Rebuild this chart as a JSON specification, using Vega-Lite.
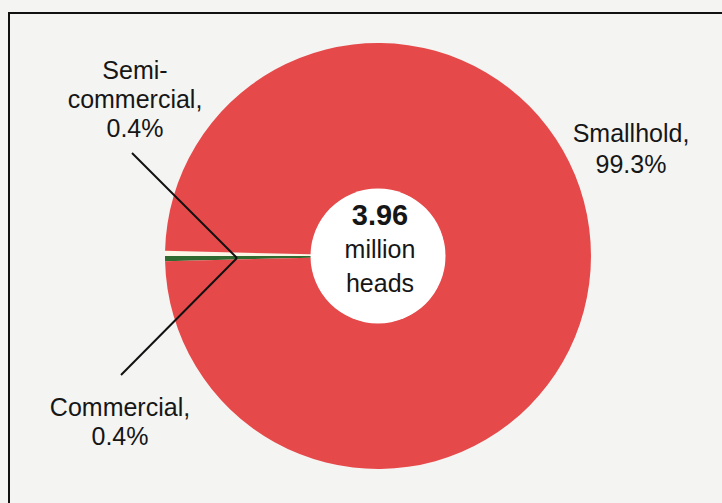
{
  "$schema": "https://vega.github.io/schema/vega-lite/v6.json",
  "width": 722,
  "height": 503,
  "autosize": {"type": "none"},
  "padding": 0,
  "background": "#F4F4F2",
  "config": {"view": {"stroke": null}, "text": {"font": "Liberation Sans", "color": "#161616"}},
  "datasets": {
    "shares": [
      {"category": "Commercial", "share": 0.4},
      {"category": "Semi-commercial", "share": 0.4},
      {"category": "Smallhold", "share": 99.3}
    ]
  },
  "layer": [
    {
      "data": {"values": [{}]},
      "mark": {"type": "rect", "fillOpacity": 0, "stroke": "#111111", "strokeWidth": 2},
      "encoding": {"x": {"value": 9}, "y": {"value": 13}, "x2": {"value": 780}, "y2": {"value": 560}}
    },
    {
      "data": {"name": "shares"},
      "mark": {"type": "arc", "innerRadius": 67, "outerRadius": 213},
      "encoding": {
        "theta": {"field": "share", "type": "quantitative", "stack": true, "scale": {"range": [4.6872, 10.9704]}},
        "order": {"field": "category", "type": "nominal"},
        "color": {
          "field": "category",
          "type": "nominal",
          "scale": {"domain": ["Commercial", "Semi-commercial", "Smallhold"], "range": ["#2F6B30", "#FBF6E6", "#E6494A"]},
          "legend": null
        },
        "x": {"value": 378},
        "y": {"value": 256}
      }
    },
    {
      "data": {"values": [{}]},
      "mark": {"type": "circle", "color": "#FFFFFF", "opacity": 1, "size": 18225},
      "encoding": {"x": {"value": 378}, "y": {"value": 256}}
    },
    {
      "data": {"values": [{}]},
      "mark": {"type": "rule", "color": "#111111", "strokeWidth": 2},
      "encoding": {"x": {"value": 237}, "y": {"value": 258}, "x2": {"value": 132}, "y2": {"value": 153}}
    },
    {
      "data": {"values": [{}]},
      "mark": {"type": "rule", "color": "#111111", "strokeWidth": 2},
      "encoding": {"x": {"value": 237}, "y": {"value": 258}, "x2": {"value": 121}, "y2": {"value": 375}}
    },
    {
      "data": {"values": [{}]},
      "mark": {"type": "text", "align": "center", "baseline": "alphabetic", "fontSize": 25, "lineHeight": 29, "text": ["Semi-", "commercial,", "0.4%"]},
      "encoding": {"x": {"value": 135}, "y": {"value": 79}}
    },
    {
      "data": {"values": [{}]},
      "mark": {"type": "text", "align": "center", "baseline": "alphabetic", "fontSize": 25, "lineHeight": 29, "text": ["Commercial,", "0.4%"]},
      "encoding": {"x": {"value": 120}, "y": {"value": 416}}
    },
    {
      "data": {"values": [{}]},
      "mark": {"type": "text", "align": "center", "baseline": "alphabetic", "fontSize": 25, "lineHeight": 31, "text": ["Smallhold,", "99.3%"]},
      "encoding": {"x": {"value": 631}, "y": {"value": 142}}
    },
    {
      "data": {"values": [{}]},
      "mark": {"type": "text", "align": "center", "baseline": "alphabetic", "fontSize": 29, "fontWeight": "bold", "text": "3.96"},
      "encoding": {"x": {"value": 380}, "y": {"value": 225}}
    },
    {
      "data": {"values": [{}]},
      "mark": {"type": "text", "align": "center", "baseline": "alphabetic", "fontSize": 25, "lineHeight": 34, "text": ["million", "heads"]},
      "encoding": {"x": {"value": 380}, "y": {"value": 258}}
    }
  ]
}
